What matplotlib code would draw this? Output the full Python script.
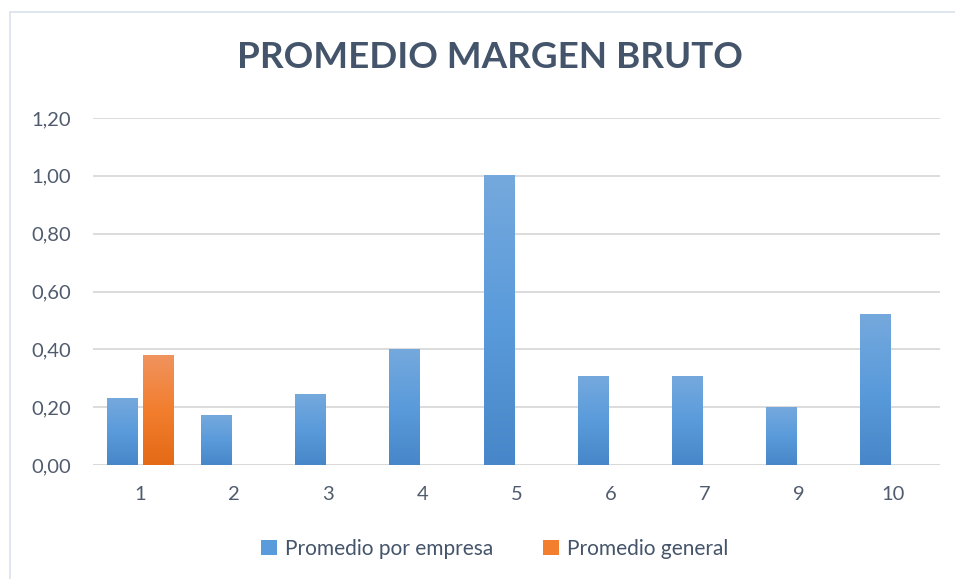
import numpy as np
import matplotlib
matplotlib.use("Agg")
from matplotlib import pyplot as plt
from matplotlib.colors import LinearSegmentedColormap
from matplotlib.patches import Rectangle, Patch

categorias = ["1", "2", "3", "4", "5", "6", "7", "9", "10"]
promedio_empresa = [0.23, 0.17, 0.245, 0.40, 1.00, 0.305, 0.305, 0.20, 0.52]
promedio_general = [0.38, np.nan, np.nan, np.nan, np.nan, np.nan, np.nan, np.nan, np.nan]
y_ticks = [0.0, 0.2, 0.4, 0.6, 0.8, 1.0, 1.2]

plt.rcParams['font.family'] = ['Lato', 'DejaVu Sans']

azul = ["#4787C9", "#5A9BDB", "#75A9DD"]
naranja = ["#E46A16", "#F27E2E", "#F0935E"]
texto = "#44546A"
eje = "#505C6E"

fig = plt.figure(figsize=(9.55, 5.79), dpi=100)
fig.patch.set_facecolor("white")
fig.patches.append(Rectangle((10 / 955, -0.05), 1.2, 1 - 12 / 579 + 0.05,
                             transform=fig.transFigure, fill=False,
                             edgecolor="#D9E1EA", linewidth=1.2, zorder=0))

ax = fig.add_axes([93 / 955, 1 - 465 / 579, (940 - 93) / 955, (465 - 118) / 579])

x = np.arange(len(categorias))
ancho = 0.32
desp = 0.19


def barras_degradado(pos, vals, colores):
    cmap = LinearSegmentedColormap.from_list("g", colores)
    barras = ax.bar(pos, vals, ancho, color="none", edgecolor="none")
    grad = np.linspace(0, 1, 256).reshape(-1, 1)
    for b in barras:
        h = b.get_height()
        if not np.isfinite(h) or h == 0:
            continue
        x0 = b.get_x()
        ax.imshow(grad, cmap=cmap, origin="lower", aspect="auto",
                  extent=[x0, x0 + b.get_width(), 0, h], zorder=3)


barras_degradado(x - desp, promedio_empresa, azul)
barras_degradado(x + desp, promedio_general, naranja)

ax.set_xlim(-0.5, len(categorias) - 0.5)
ax.set_ylim(0, 1.2)
ax.set_yticks(y_ticks)
ax.set_yticklabels([f"{v:.2f}".replace(".", ",") for v in y_ticks])
ax.set_xticks(x)
ax.set_xticklabels(categorias)
ax.yaxis.grid(True, color="#D9D9D9", linewidth=1.3)
ax.set_axisbelow(True)
for s in ax.spines.values():
    s.set_visible(False)
ax.axhline(0, color="#D9D9D9", linewidth=1.3, zorder=2)
ax.tick_params(axis="both", length=0, labelsize=14.5, labelcolor=eje)
ax.tick_params(axis="x", pad=15)
ax.tick_params(axis="y", pad=16)

fig.text(490 / 955, 1 - 58 / 579, "PROMEDIO MARGEN BRUTO", ha="center", va="center",
         fontsize=26.5, fontweight="bold", color=texto)

handles = [Patch(facecolor=azul[1], label="Promedio por empresa"),
           Patch(facecolor=naranja[1], label="Promedio general")]
fig.legend(handles=handles, loc="center", bbox_to_anchor=(495 / 955, 1 - 549 / 579),
           ncol=2, frameon=False, fontsize=15, labelcolor=texto,
           handlelength=0.75, handleheight=0.75, handletextpad=0.4, columnspacing=2.4)

fig.savefig("out.png", dpi=100)
